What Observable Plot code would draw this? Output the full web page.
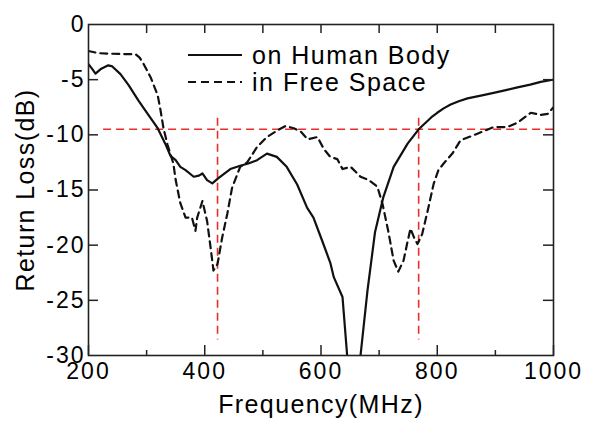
<!DOCTYPE html>
<html><head><meta charset="utf-8">
<script src="https://cdn.jsdelivr.net/npm/d3@7"></script>
<script src="https://cdn.jsdelivr.net/npm/@observablehq/plot@0.6"></script>
<style>
body{margin:0;background:#fff;}
#chart svg{font-family:"Liberation Sans",Arial,sans-serif;}
#chart g[aria-label="x-axis tick label"] text{letter-spacing:2px;}
#chart g[aria-label="y-axis tick label"] text{letter-spacing:2px;}
#chart .ttl text{letter-spacing:1.4px;}
#chart .legend text{letter-spacing:1.5px;}
</style></head><body><div id="chart"></div>
<script>
// ---- data ----
const humanFreq = [200,206,212,222,234,241,255,269,286,303,319,332,341,350,358,367,381,390,396,404,413,424,444,461,475,490,507,524,541,559,576,587,602,616,622,637,645,649,662,668,680,693,707,725,749,768,780,790,800,811,823,837,852,875,897,918,938,960,978,1000];
const humanRL   = [-3.6,-4.0,-4.45,-4.0,-3.7,-3.8,-4.5,-5.5,-6.9,-8.2,-9.4,-10.8,-11.9,-12.3,-12.9,-13.2,-13.8,-13.7,-13.5,-14.1,-14.4,-13.9,-13.1,-12.8,-12.6,-12.3,-11.7,-12.0,-12.9,-14.5,-16.6,-17.5,-19.6,-21.6,-22.9,-24.7,-30,-33,-33,-30,-24.1,-18.8,-15.7,-12.9,-10.8,-9.5,-8.9,-8.4,-8.0,-7.6,-7.25,-6.95,-6.7,-6.45,-6.2,-5.95,-5.7,-5.45,-5.2,-5.0];
const freeFreq = [200,217,240,281,288,295,307,319,324,329,336,346,350,358,367,378,384,387,396,404,410,415,422,430,439,447,461,473,490,507,525,539,553,565,577,594,605,616,628,637,651,668,682,697,706,716,725,733,742,748,754,760,766,774,783,794,802,811,826,840,869,897,920,938,961,978,990,1000];
const freeRL   = [-2.4,-2.6,-2.65,-2.7,-3.0,-3.6,-4.8,-6.4,-7.8,-9.4,-10.9,-12.6,-14.1,-16.2,-17.5,-17.5,-18.7,-17.5,-16.0,-17.8,-20.2,-22.3,-21.7,-19.3,-17.1,-14.8,-12.9,-12.5,-11.1,-10.2,-9.6,-9.2,-9.4,-9.7,-10.4,-10.2,-11.3,-12.0,-12.2,-13.1,-12.9,-13.8,-14.1,-14.7,-16.3,-18.8,-21.4,-22.4,-21.4,-19.9,-18.5,-19.3,-19.9,-19.0,-17.0,-14.4,-13.2,-12.6,-11.7,-10.5,-9.9,-9.3,-9.3,-8.9,-8.0,-8.2,-8.1,-7.5];
const seriesNames = ["on Human Body", "in Free Space"];
const xTicks = [200, 400, 600, 800, 1000];
const xMinorTicks = [300, 500, 700, 900];
const yTicks = [0, -5, -10, -15, -20, -25, -30];
const xLabel = "Frequency(MHz)";
const yLabel = "Return Loss(dB)";
const refLevel = -9.5, refStartFreq = 226, refEndFreq = 1000;
const bandEdges = [422, 768];
const bandTop = -8.5, bandBottom = -28.6;

// ---- layout ----
const W = 592, H = 430, mL = 88, mR = 39, mT = 24, mB = 75;
const plotW = W - mL - mR, plotH = H - mT - mB;
const human = humanFreq.map((f, i) => ({f, rl: humanRL[i]}));
const free = freeFreq.map((f, i) => ({f, rl: freeRL[i]}));
const red = "#e8302a", ink = "#111", frameInk = "#222";

const plot = Plot.plot({
  width: W, height: H,
  marginLeft: mL, marginRight: mR, marginTop: mT, marginBottom: mB,
  style: {fontFamily: '"Liberation Sans", Arial, sans-serif', fontSize: "23px", color: "#000", background: "#fff"},
  x: {domain: [200, 1000]},
  y: {domain: [-30, 0]},
  marks: [
    Plot.ruleY([refLevel], {x1: refStartFreq, x2: refEndFreq, stroke: red, strokeWidth: 1.6, strokeDasharray: "8,5"}),
    Plot.ruleX(bandEdges, {y1: bandTop, y2: bandBottom, stroke: red, strokeWidth: 1.6, strokeDasharray: "8,5"}),
    Plot.line(human, {x: "f", y: "rl", stroke: ink, strokeWidth: 2.2, clip: true}),
    Plot.line(free, {x: "f", y: "rl", stroke: ink, strokeWidth: 2.2, strokeDasharray: "7,5", clip: true}),
    Plot.frame({stroke: frameInk, strokeWidth: 1.6}),
    Plot.ruleX(xTicks, {insetTop: plotH - 10, stroke: frameInk, strokeWidth: 1.5}),
    Plot.ruleX(xMinorTicks, {insetTop: plotH - 5, stroke: frameInk, strokeWidth: 1.5}),
    Plot.ruleX([...xMinorTicks, ...xTicks.slice(1, -1)], {insetBottom: plotH - 9, stroke: frameInk, strokeWidth: 1.5}),
    Plot.ruleY(yTicks.slice(1, -1), {insetRight: plotW - 10, stroke: frameInk, strokeWidth: 1.5}),
    Plot.ruleY(yTicks.slice(1, -1), {insetLeft: plotW - 10, stroke: frameInk, strokeWidth: 1.5}),
    Plot.axisX(xTicks, {tickSize: 0, tickPadding: 7, tickFormat: d => String(d), label: null, fontSize: 23}),
    Plot.axisY(yTicks, {tickSize: 0, tickPadding: 3, tickFormat: d => String(d), label: null, fontSize: 23}),
    Plot.text([xLabel], {text: d => d, frameAnchor: "bottom", dy: 57, fontSize: 25, className: "ttl"}),
    Plot.text([yLabel], {text: d => d, frameAnchor: "left", dx: -63, rotate: -90, textAnchor: "middle", fontSize: 25, className: "ttl"})
  ]
});

// legend inside the plot area
const svg = d3.select(plot);
const lg = svg.append("g").attr("class", "legend").attr("text-anchor", "start");
const dashes = [null, "8,5"];
seriesNames.forEach((name, i) => {
  const y = 55 + i * 27;
  lg.append("line").attr("x1", 188).attr("x2", 242).attr("y1", y).attr("y2", y)
    .attr("stroke", ink).attr("stroke-width", 2.2).attr("stroke-dasharray", dashes[i]);
  lg.append("text").attr("x", 252).attr("y", y).attr("dy", "0.35em")
    .attr("font-size", 25).attr("fill", "#000").text(name);
});
document.getElementById("chart").appendChild(plot);
</script>
</body></html>
